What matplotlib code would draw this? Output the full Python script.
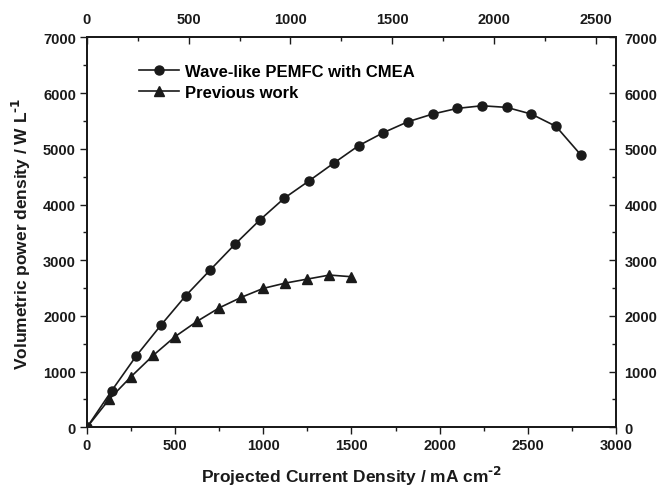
#=========================================================================
# volumetric power density vs projected current density
#=========================================================================

import matplotlib
matplotlib.use('Agg')
import matplotlib.pyplot as plt
from matplotlib.ticker import MultipleLocator

plt.rcParams['font.family'] = 'Liberation Sans'
plt.rcParams['font.weight'] = 'bold'
plt.rcParams['mathtext.default'] = 'bf'

#-------------------------------------------------------------------------
# Raw data
#-------------------------------------------------------------------------

# Wave-like PEMFC with CMEA

wave_x = [0, 140, 280, 420, 560, 700, 840, 980, 1120, 1260, 1400,
          1540, 1680, 1820, 1960, 2100, 2240, 2380, 2520, 2660, 2800]
wave_y = [0, 657, 1285, 1837, 2363, 2830, 3290, 3722, 4117, 4427, 4745,
          5056, 5290, 5487, 5625, 5727, 5774, 5745, 5625, 5404, 4894]

# Previous work

prev_x = [0, 125, 250, 375, 500, 625, 750, 875, 1000, 1125, 1250, 1375, 1500]
prev_y = [0, 500, 910, 1290, 1630, 1905, 2145, 2334, 2495, 2590, 2662,
          2734, 2704]

labels = ['Wave-like PEMFC with CMEA', 'Previous work']

#-------------------------------------------------------------------------
# Create plot
#-------------------------------------------------------------------------

fig = plt.figure(figsize=(6.6, 4.89), dpi=100)
ax = fig.add_axes([0.1318, 0.1241, 0.9333 - 0.1318, 0.9213 - 0.1241])

ink = '#1a1a1a'
tick_fs = 10.5

ax.plot(wave_x, wave_y, color=ink, lw=1.2, marker='o', ms=6.5,
        label=labels[0])
ax.plot(prev_x, prev_y, color=ink, lw=1.2, marker='^', ms=7.5,
        label=labels[1])

ax.set_xlim(0, 3000)
ax.set_ylim(0, 7000)
ax.xaxis.set_major_locator(MultipleLocator(500))
ax.xaxis.set_minor_locator(MultipleLocator(250))
ax.yaxis.set_major_locator(MultipleLocator(1000))
ax.yaxis.set_minor_locator(MultipleLocator(500))

ax.tick_params(which='both', direction='out', labelsize=tick_fs,
               colors=ink, width=1.0)
ax.tick_params(which='major', length=5, pad=3)
ax.tick_params(which='minor', length=3)

# Right axis mirror (ticks inward)

axr = ax.twinx()
axr.set_ylim(0, 7000)
axr.yaxis.set_major_locator(MultipleLocator(1000))
axr.yaxis.set_minor_locator(MultipleLocator(500))
axr.tick_params(which='both', direction='in', labelsize=tick_fs,
                colors=ink, width=1.0)
axr.tick_params(which='major', length=5, pad=6)
axr.tick_params(which='minor', length=3)

# Top axis (ticks inward)

axt = ax.twiny()
axt.set_xlim(0, 2600)
axt.xaxis.set_major_locator(MultipleLocator(500))
axt.xaxis.set_minor_locator(MultipleLocator(250))
axt.tick_params(which='both', direction='in', labelsize=tick_fs,
                colors=ink, width=1.0)
axt.tick_params(which='major', length=5, pad=8)
axt.tick_params(which='minor', length=3)

for a in (ax, axr, axt):
  for sp in a.spines.values():
    sp.set_linewidth(1.2)
    sp.set_color(ink)
  for lab in a.get_xticklabels() + a.get_yticklabels():
    lab.set_fontweight('bold')

ax.set_xlabel('Projected Current Density / mA cm$^{\\text{-}2}$',
              fontsize=12.5, fontweight='bold', color=ink, labelpad=8)
ax.set_ylabel('Volumetric power density / W L$^{\\text{-}1}$',
              fontsize=12.5, fontweight='bold', color=ink, labelpad=7)

# Legend

ax.legend(loc='upper left', bbox_to_anchor=(0.085, 0.95), frameon=False,
          prop={'size': 12, 'weight': 'bold'}, handlelength=2.4,
          handletextpad=0.4, labelspacing=0.4, borderaxespad=0)

fig.savefig('out.png', dpi=100)
